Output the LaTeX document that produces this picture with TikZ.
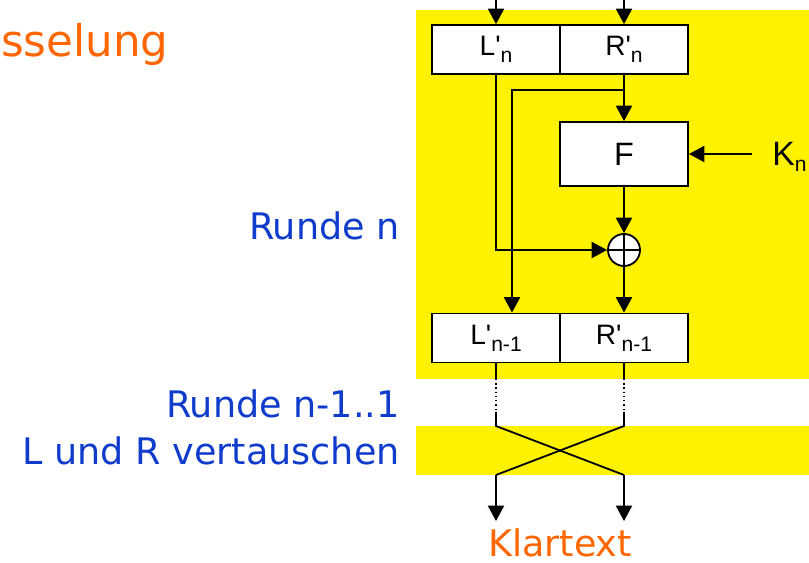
\documentclass[tikz,border=0pt]{standalone}
\usepackage{fontspec}
\setmainfont{DejaVu Sans}
\newfontfamily\boxfont{Liberation Sans}
\usetikzlibrary{arrows.meta, positioning}

\definecolor{roundyellow}{RGB}{255,242,0}
\definecolor{titleorange}{RGB}{255,102,0}
\definecolor{labelblue}{RGB}{16,60,204}

\newcommand{\idx}[2][-5pt]{\raisebox{#1}{\fontsize{15}{15}\selectfont #2}}

\begin{document}
\begin{tikzpicture}[
  x=0.025cm, y=-0.025cm,
  half/.style={
    draw,
    line width=1.3pt,
    fill=white,
    minimum width=3.2cm,
    minimum height=1.225cm,
    inner sep=0pt,
    font=\boxfont\fontsize{20}{20}\selectfont
  },
  func/.style={
    half,
    minimum height=1.6cm,
    font=\boxfont\fontsize{23}{23}\selectfont
  },
  xorsym/.style={
    circle,
    draw,
    line width=1.3pt,
    fill=white,
    minimum size=0.8cm,
    inner sep=0pt,
    path picture={
      \draw[line width=1.3pt]
        (path picture bounding box.north) -- (path picture bounding box.south)
        (path picture bounding box.west) -- (path picture bounding box.east);
    }
  },
  label/.style={font=\fontsize{26}{26}\selectfont, text=labelblue, anchor=base east, inner sep=0pt},
  title/.style={font=\fontsize{26}{26}\selectfont, text=titleorange, inner sep=0pt},
  arrow/.style={-{Triangle[length=11pt, width=11.5pt]}, line width=1.3pt},
  wire/.style={line width=1.3pt}
]

\useasboundingbox (0,0) rectangle (809,563);

% ------------------------------------------------------------
% Yellow backgrounds
% ------------------------------------------------------------

\fill[roundyellow] (416,10) rectangle (809,379);
\fill[roundyellow] (416,426) rectangle (809,475);

% ------------------------------------------------------------
% Boxes of round n
% ------------------------------------------------------------

\node[half] (Ln) at (496,49.5) {L\textquotesingle\idx{n}};
\node[half] (Rn) at (624,49.5) {R\textquotesingle\idx{n}};

\node[func] (F) at (624,154) {F};
\node[xorsym] (xor) at (624,250) {};

\node[half] (Ln1) at (496,338) {L\textquotesingle\idx{n-1}};
\node[half] (Rn1) at (624,338) {R\textquotesingle\idx{n-1}};

\node[anchor=base west, inner sep=0pt, font=\boxfont\fontsize{24}{24}\selectfont] (K) at (772,166) {K\idx[-4pt]{n}};

% ------------------------------------------------------------
% Texts
% ------------------------------------------------------------

\node[title, anchor=base west, font=\fontsize{31}{31}\selectfont] (head) at (1,57) {sselung};
\node[label] (round) at (400,240) {Runde n};
\node[label] (rest) at (400,417) {Runde n-1..1};
\node[label] (swap) at (400,464) {L und R vertauschen};
\node[title, anchor=base] (plain) at (560,556) {Klartext};

% ------------------------------------------------------------
% Helper points
% ------------------------------------------------------------

\coordinate (inL) at (496,0);
\coordinate (inR) at (624,0);
\coordinate (split) at (624,90);
\coordinate (turn) at (512,90);
\coordinate (keyin) at (752,154);
\coordinate (dotL) at (496,379);
\coordinate (dotR) at (624,379);
\coordinate (solL) at (496,412);
\coordinate (solR) at (624,412);
\coordinate (crossL) at (496,426);
\coordinate (crossR) at (624,426);
\coordinate (endL) at (496,475);
\coordinate (endR) at (624,475);
\coordinate (outL) at (496,521);
\coordinate (outR) at (624,521);

% ------------------------------------------------------------
% Connections in round n
% ------------------------------------------------------------

\draw[arrow] (inL) -- (Ln);
\draw[arrow] (inR) -- (Rn);

\draw[arrow] (Rn.south) -- (F.north);
\draw[arrow] (split) -- (turn) -- (turn |- Ln1.north);
\draw[arrow] (keyin) -- (F.east);

\draw[arrow] (Ln.south) |- (xor.west);
\draw[arrow] (F.south) -- (xor.north);
\draw[arrow] (xor.south) -- (Rn1.north);

% ------------------------------------------------------------
% Remaining rounds and final swap
% ------------------------------------------------------------

\draw[wire] (Ln1.south) -- (dotL);
\draw[wire] (Rn1.south) -- (dotR);
\draw[line width=1pt, dotted] (dotL) -- (solL);
\draw[line width=1pt, dotted] (dotR) -- (solR);

\draw[wire] (solL) -- (crossL) -- (endR);
\draw[wire] (solR) -- (crossR) -- (endL);
\draw[arrow] (endL) -- (outL);
\draw[arrow] (endR) -- (outR);

\end{tikzpicture}
\end{document}
